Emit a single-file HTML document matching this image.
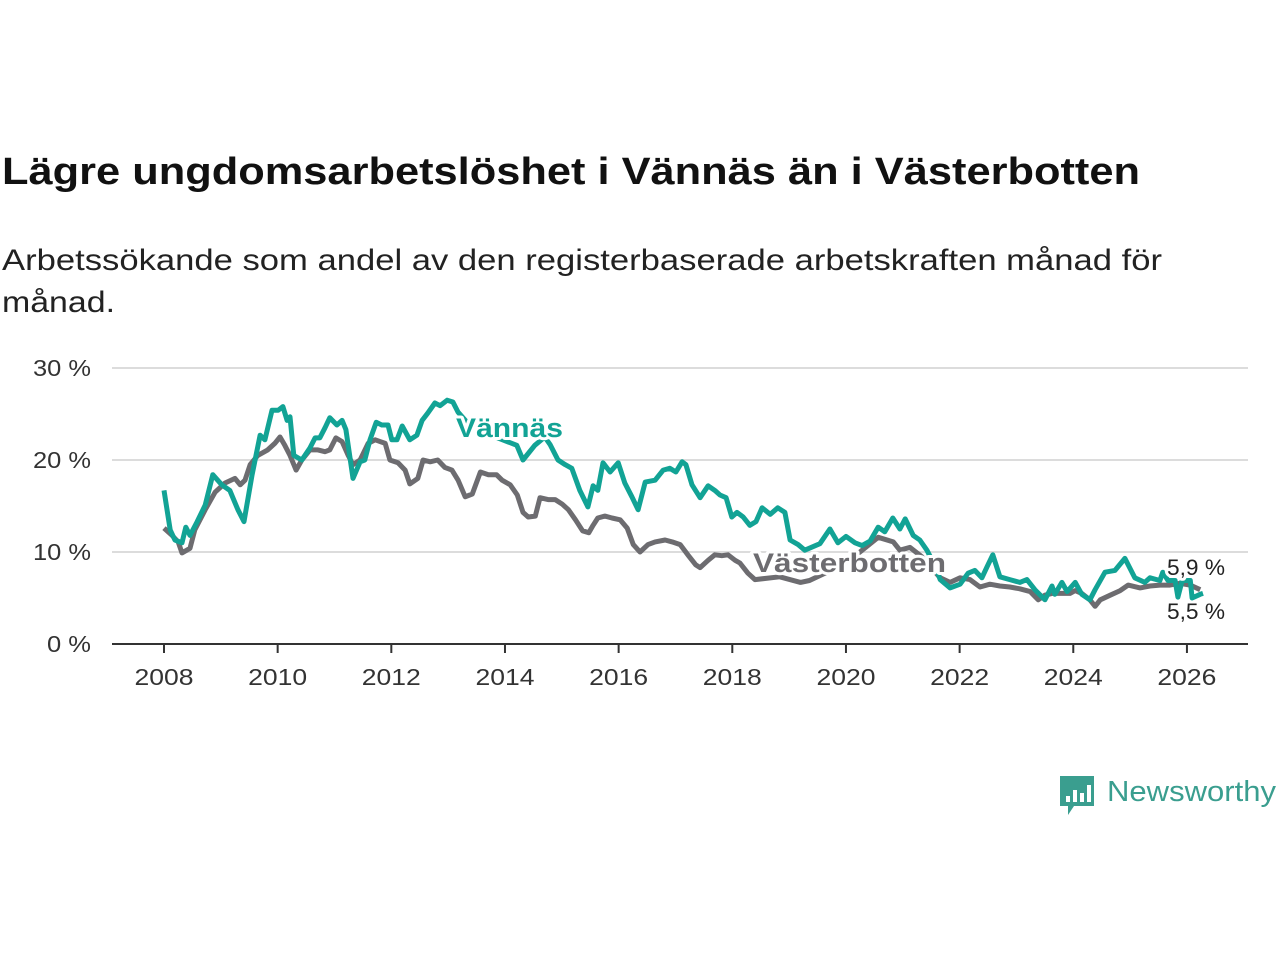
<!DOCTYPE html>
<html><head><meta charset="utf-8"><style>
html,body{margin:0;padding:0;background:#fff;width:1280px;height:960px;overflow:hidden}
svg{display:block;font-family:"Liberation Sans","DejaVu Sans",sans-serif}
</style></head><body>
<svg id="chart" width="1280" height="960" viewBox="0 0 1280 960">
<text x="2" y="184" font-size="38" font-weight="bold" fill="#111" textLength="1138" lengthAdjust="spacingAndGlyphs">Lägre ungdomsarbetslöshet i Vännäs än i Västerbotten</text>
<text x="2" y="270" font-size="30" fill="#222" textLength="1160" lengthAdjust="spacingAndGlyphs">Arbetssökande som andel av den registerbaserade arbetskraften månad för</text>
<text x="2" y="312" font-size="30" fill="#222" textLength="113" lengthAdjust="spacingAndGlyphs">månad.</text>
<g id="grid"></g><g id="xaxis"></g><g id="series"></g><g id="labels"></g>
<g>
<path d="M1060 776 h34 v30 h-20 l-6 9 v-9 h-8 z" fill="#3a9e8f"/>
<rect x="1066" y="796" width="4" height="6" fill="#fff"/><rect x="1073" y="790" width="4" height="12" fill="#fff"/><rect x="1080" y="793" width="4" height="9" fill="#fff"/><rect x="1087" y="785" width="4" height="17" fill="#fff"/>
<text x="1107" y="801" font-size="29" fill="#3a9e8f" textLength="169" lengthAdjust="spacingAndGlyphs">Newsworthy</text>
</g>
</svg>
<script>
const yTicks=[0,10,20,30];
const yTickLabels=["0 %","10 %","20 %","30 %"];
const xTicks=[2008,2010,2012,2014,2016,2018,2020,2022,2024,2026];
const vannasMonths=[0,1.3,2.3,3.8,4.6,5.5,7,8.7,10.3,12.2,13.9,15.6,16.9,18.6,20.3,21.3,22.8,24.1,25.1,26,26.6,27.4,29.1,30.8,31.9,32.9,34,35,36.5,37.6,38.4,39.9,41.4,42.4,43.5,44.8,46,47.3,48.1,49.2,50.3,51.9,53.4,54.5,55.7,57.2,58.3,59.8,61,62.1,65,70,74.5,75.8,78.3,80.4,81.5,83.2,84.7,86.1,87.8,89.5,90.6,91.6,92.7,94.2,95.9,97.3,98.8,100.1,101.6,103.7,105.4,106.8,108.1,109.4,110.2,111.5,113.2,114.9,116.3,117.4,118.7,119.9,121,122.3,123.7,125,126.3,128,129.6,131.1,132.2,133.9,135.3,138.5,140.6,142.3,144,145.9,147.4,149.1,150.8,152.2,153.9,155.4,156.5,158.2,159.6,161.1,162.8,163.9,166,168.1,169.8,171.2,172.7,173.8,175,176.5,178.6,180.7,182.2,183.9,186,187.5,188.1,189.6,190.7,192.4,193.8,195.5,196.6,198.7,200.8,202.9,205,207.1,208.2,210.3,210.9,212,213.5,214.1,215,216.7,217.1,218.8,219.4];
const vannasValues=[16.7,12.4,11.3,11.0,12.7,11.8,13.3,15.1,18.4,17.3,16.7,14.6,13.3,18.4,22.7,22.2,25.4,25.4,25.8,24.3,24.7,20.5,20.0,21.3,22.4,22.4,23.5,24.6,23.8,24.3,23.3,18.0,19.8,20.0,22.2,24.1,23.8,23.8,22.2,22.2,23.7,22.2,22.7,24.3,25.1,26.2,25.9,26.5,26.3,25.2,23.5,22.5,21.6,20.0,21.6,22.5,21.7,20.0,19.5,19.1,16.7,14.9,17.2,16.7,19.7,18.7,19.7,17.5,16.0,14.6,17.6,17.8,18.9,19.1,18.7,19.8,19.5,17.3,15.9,17.2,16.7,16.2,15.9,13.8,14.3,13.8,12.9,13.3,14.8,14.1,14.8,14.3,11.3,10.8,10.2,10.9,12.5,11.0,11.7,11.0,10.7,11.2,12.7,12.2,13.7,12.5,13.6,11.8,11.3,10.2,8.5,7.0,6.1,6.5,7.7,8.0,7.2,8.4,9.7,7.3,7.0,6.7,7.0,5.9,4.8,6.3,5.4,6.7,5.7,6.7,5.4,4.8,5.9,7.8,8.0,9.3,7.2,6.7,7.2,6.9,7.8,6.9,6.9,5.1,6.9,6.9,5.0,5.4,5.5];
const vbMonths=[0,1.7,3,3.8,5.5,6.5,8.7,10.8,12.9,15,16.1,17.1,18.2,19.8,21.9,23.4,24.5,25.5,26.6,27.9,29.1,30.8,32.5,34,35,36.3,37.6,38.9,39.9,41.4,43.1,44.6,46.7,47.7,49.4,50.9,51.9,53.6,54.7,56.2,57.8,59.3,60.8,62.1,63.6,65.1,66.8,68.5,70.2,71.4,73.1,74.6,75.8,76.9,78.4,79.4,81.1,82.6,84.1,85.4,86.9,88.4,89.7,90.6,91.6,93.1,94.6,96.3,97.8,99.1,100.5,102.2,103.7,105.8,107.3,109,110.6,112.3,113.2,114.9,116.3,117.8,119.1,120.6,121.6,123.3,124.8,130,134.4,136.3,140,145,150.8,154,155.4,157.5,160,163.9,166,168.1,170.2,172.3,174.4,176.5,178.6,180.7,182.9,184.6,186,187.5,189.2,191.3,192.4,193.8,195.5,196.6,197.7,199.8,201.9,203.6,206.1,208.2,210.3,212.4,214.5,216.7,218.8];
const vbValues=[12.6,11.8,11.1,9.9,10.4,12.4,14.6,16.5,17.5,18.0,17.3,17.8,19.5,20.5,21.1,21.8,22.5,21.6,20.5,18.9,20.0,21.1,21.1,20.9,21.1,22.4,22.0,20.5,19.5,20.0,21.8,22.2,21.8,20.0,19.7,18.9,17.4,18.0,20.0,19.8,20.0,19.2,18.9,17.8,16.0,16.3,18.7,18.4,18.4,17.8,17.3,16.2,14.3,13.8,13.9,15.9,15.7,15.7,15.2,14.6,13.5,12.3,12.1,12.9,13.7,13.9,13.7,13.5,12.6,10.8,10.0,10.8,11.1,11.3,11.1,10.8,9.7,8.6,8.3,9.1,9.7,9.6,9.7,9.1,8.8,7.7,7.0,7.3,6.7,6.9,7.8,9.2,11.6,11.1,10.2,10.5,9.5,7.2,6.7,7.2,7.0,6.2,6.5,6.3,6.2,6.0,5.7,4.8,5.3,5.5,5.5,5.5,5.8,5.5,4.8,4.1,4.8,5.3,5.8,6.4,6.1,6.3,6.4,6.4,6.6,6.4,5.9];
const NS="http://www.w3.org/2000/svg";
const x0=164,pxPerYear=56.83;
function xScale(m){return x0+m*pxPerYear/12;}
function xYear(y){return x0+(y-2008)*pxPerYear;}
function yScale(v){return 644-v*9.2;}
function mk(tag,attrs,parent){const e=document.createElementNS(NS,tag);for(const k in attrs)e.setAttribute(k,attrs[k]);parent.appendChild(e);return e;}
const grid=document.getElementById('grid');
yTicks.forEach((t,i)=>{
  if(t>0){const l=mk('line',{x1:112,x2:1248,y1:yScale(t),y2:yScale(t),stroke:'#dcdcdc','stroke-width':2},grid);
  
  }
  const lbl=yTickLabels[i];
  const tx=mk('text',{x:91,y:yScale(t)+8,'font-size':23,fill:'#333','text-anchor':'end',textLength:(lbl.length>3?58:44),lengthAdjust:'spacingAndGlyphs'},grid);
  tx.textContent=lbl;
  
  
});
const xa=document.getElementById('xaxis');
const base=mk('line',{x1:112,x2:1248,y1:644,y2:644,stroke:'#333','stroke-width':2},xa);


xTicks.forEach(y=>{
  const tk=mk('line',{x1:xYear(y),x2:xYear(y),y1:644,y2:653,stroke:'#333','stroke-width':2},xa);
  
  
  const t=mk('text',{x:xYear(y),y:685,'font-size':23,fill:'#333','text-anchor':'middle',textLength:59,lengthAdjust:'spacingAndGlyphs'},xa);
  t.textContent=y;
  
  
});
const sg=document.getElementById('series');
function path(ms,vs){return ms.map((m,i)=>(i?'L':'M')+xScale(m).toFixed(1)+' '+yScale(vs[i]).toFixed(1)).join(' ');}
const vbLine=mk('path',{d:path(vbMonths,vbValues),fill:'none',stroke:'#6d6c70','stroke-width':5,'stroke-linejoin':'round'},sg);


const vLine=mk('path',{d:path(vannasMonths,vannasValues),fill:'none',stroke:'#12a395','stroke-width':5,'stroke-linejoin':'round'},sg);


const lg=document.getElementById('labels');
function lab(txt,x,y,size,color,bold,name,len){
  const a={x:x,y:y,'font-size':size,fill:color,'font-weight':bold?'bold':'normal',stroke:'#fff','stroke-width':6,'paint-order':'stroke','stroke-linejoin':'round'};
  if(len){a.textLength=len;a.lengthAdjust='spacingAndGlyphs';}
  const t=mk('text',a,lg);t.textContent=txt;
  
  
}
lab('Vännäs',456,437,27,'#12a395',true,'vannas-label',107);
lab('Västerbotten',753,572,27,'#6d6c70',true,'vasterbotten-label',193);
lab('5,9 %',1167,575,22,'#222',false,'vasterbotten-last-value',58);
lab('5,5 %',1167,619,22,'#222',false,'vannas-last-value',58);
</script>
</body></html>
